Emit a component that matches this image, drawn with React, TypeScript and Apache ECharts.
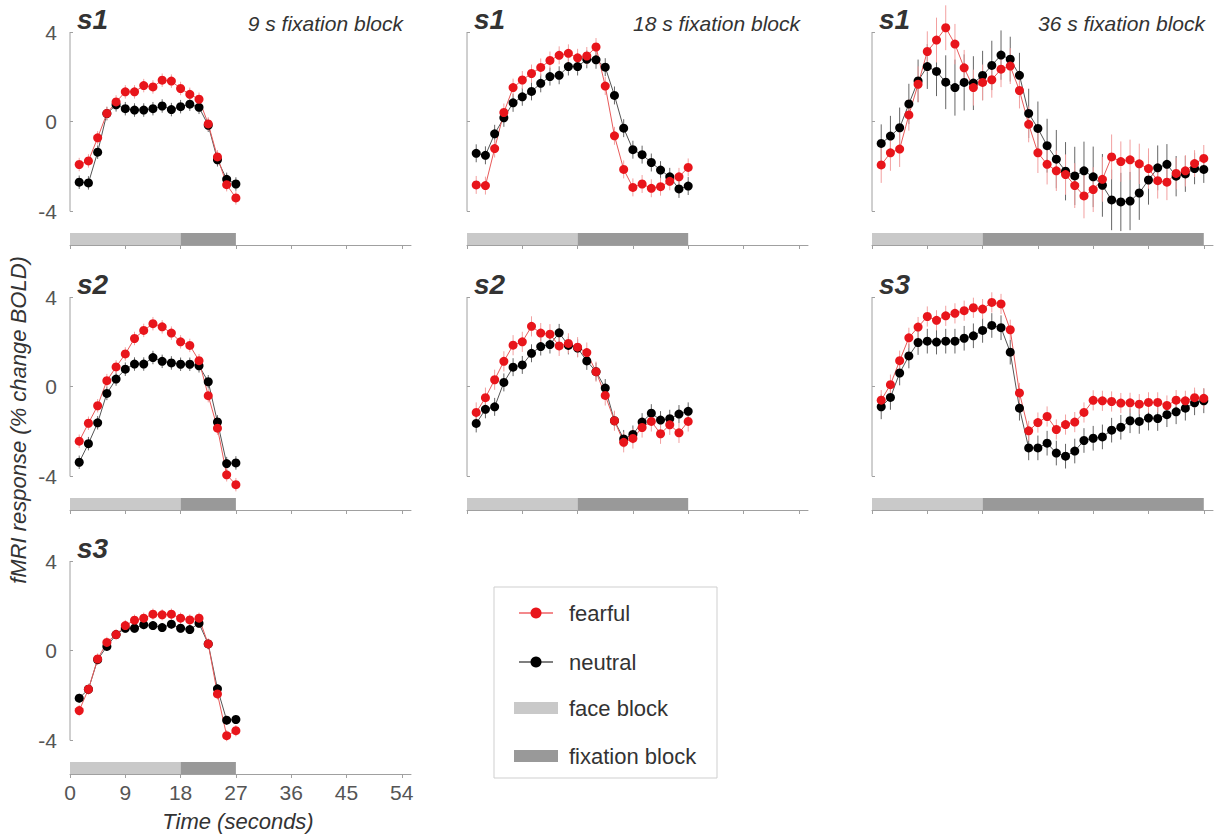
import React, { useEffect, useRef } from "react";
import * as echarts from "echarts";

// ---- sampling times (s) ----
const TIME_27 = [1.5, 3, 4.5, 6, 7.5, 9, 10.5, 12, 13.5, 15, 16.5, 18, 19.5, 21, 22.5, 24, 25.5, 27];
const TIME_36 = [1.5, 3, 4.5, 6, 7.5, 9, 10.5, 12, 13.5, 15, 16.5, 18, 19.5, 21, 22.5, 24, 25.5, 27, 28.5, 30, 31.5, 33, 34.5, 36];
const TIME_54 = [1.5, 3, 4.5, 6, 7.5, 9, 10.5, 12, 13.5, 15, 16.5, 18, 19.5, 21, 22.5, 24, 25.5, 27, 28.5, 30, 31.5, 33, 34.5, 36,
  37.5, 39, 40.5, 42, 43.5, 45, 46.5, 48, 49.5, 51, 52.5, 54];

// ---- responses (% change BOLD) ----
const S1_9_FEARFUL = [-1.91, -1.75, -0.72, 0.37, 0.88, 1.33, 1.33, 1.61, 1.55, 1.85, 1.81, 1.48, 1.22, 1.0, -0.1, -1.57, -2.81, -3.4];
const S1_9_NEUTRAL = [-2.7, -2.73, -1.36, 0.36, 0.75, 0.58, 0.52, 0.52, 0.58, 0.7, 0.54, 0.67, 0.78, 0.64, -0.16, -1.7, -2.57, -2.78];

const S1_18_FEARFUL = [-2.82, -2.85, -1.2, 0.41, 1.52, 1.86, 2.15, 2.42, 2.73, 2.96, 3.05, 2.85, 2.93, 3.33, 1.59, -0.63, -2.13, -2.93, -2.78, -2.97, -2.9, -2.66, -2.46, -2.04];
const S1_18_NEUTRAL = [-1.41, -1.5, -0.54, 0.17, 0.84, 1.11, 1.35, 1.71, 2.01, 2.07, 2.46, 2.46, 2.78, 2.76, 2.43, 1.17, -0.29, -1.25, -1.47, -1.82, -2.16, -2.46, -3.0, -2.87];

const S1_36_FEARFUL = [-1.93, -1.39, -1.22, 0.3, 1.67, 3.13, 3.64, 4.19, 3.46, 2.4, 1.52, 1.75, 1.87, 2.34, 2.48, 1.39, -0.12, -1.39, -1.9, -2.19,
  -2.36, -2.85, -3.31, -3.03, -2.57, -1.57, -1.78, -1.7, -1.88, -2.09, -2.63, -2.7, -2.31, -2.19, -1.87, -1.64];
const S1_36_NEUTRAL = [-0.97, -0.64, -0.27, 0.79, 1.82, 2.46, 2.24, 1.76, 1.52, 1.75, 1.72, 2.06, 2.51, 2.97, 2.79, 2.07, 0.37, -0.3, -1.07, -1.67,
  -2.21, -2.42, -2.19, -2.46, -2.84, -3.49, -3.58, -3.54, -3.18, -2.6, -2.06, -1.9, -2.43, -2.33, -2.09, -2.13];

const S2_9_FEARFUL = [-2.43, -1.63, -0.85, 0.27, 0.88, 1.46, 2.15, 2.51, 2.81, 2.67, 2.39, 2.0, 1.84, 1.16, -0.4, -1.85, -3.93, -4.37];
const S2_9_NEUTRAL = [-3.37, -2.54, -1.61, -0.3, 0.34, 0.78, 1.01, 1.01, 1.3, 1.13, 1.06, 1.0, 1.0, 0.93, 0.22, -1.57, -3.43, -3.4];

const S2_18_FEARFUL = [-1.15, -0.49, 0.31, 1.13, 1.85, 2.0, 2.69, 2.39, 2.34, 1.82, 1.93, 1.76, 1.52, 0.67, -0.39, -1.52, -2.48, -2.31, -1.82, -1.55, -2.1, -1.7, -2.06, -1.55];
const S2_18_NEUTRAL = [-1.64, -1.01, -0.9, 0.19, 0.87, 0.97, 1.49, 1.79, 1.88, 2.4, 1.84, 1.72, 1.15, 0.67, -0.06, -1.52, -2.33, -2.13, -1.58, -1.18, -1.49, -1.43, -1.22, -1.1];

const S3_36_FEARFUL = [-0.6, 0.09, 1.16, 2.18, 2.66, 3.13, 2.96, 3.16, 3.27, 3.39, 3.52, 3.46, 3.76, 3.69, 2.54, -0.28, -1.97, -1.6, -1.33, -1.91,
  -1.69, -1.58, -1.15, -0.61, -0.63, -0.66, -0.73, -0.72, -0.78, -0.7, -0.7, -0.84, -0.6, -0.63, -0.49, -0.52];
const S3_36_NEUTRAL = [-0.9, -0.48, 0.61, 1.37, 1.97, 2.03, 1.99, 2.03, 2.03, 2.16, 2.27, 2.51, 2.73, 2.63, 1.54, -0.96, -2.73, -2.73, -2.52, -2.96,
  -3.1, -2.87, -2.4, -2.3, -2.24, -1.94, -1.81, -1.52, -1.55, -1.4, -1.42, -1.25, -1.12, -0.96, -0.72, -0.63];

const S3_9_FEARFUL = [-2.67, -1.72, -0.37, 0.37, 0.72, 1.12, 1.36, 1.45, 1.63, 1.6, 1.63, 1.45, 1.37, 1.45, 0.3, -1.93, -3.79, -3.57];
const S3_9_NEUTRAL = [-2.12, -1.72, -0.4, 0.19, 0.72, 1.0, 1.0, 1.16, 1.12, 1.03, 1.18, 1.0, 0.94, 1.22, 0.3, -1.7, -3.1, -3.07];

// ---- standard errors (single value = same for every point) ----
const S1_36_FEARFUL_ERR = [0.8, 0.8, 0.8, 0.7, 0.8, 0.9, 1.0, 1.0, 0.9, 0.8, 0.8, 0.8, 0.8, 0.8, 0.8, 0.8, 0.8, 0.9, 0.9, 0.9,
  0.9, 1.0, 1.0, 1.0, 1.0, 1.0, 0.9, 0.9, 0.9, 0.9, 0.8, 0.8, 0.7, 0.7, 0.6, 0.6];
const S1_36_NEUTRAL_ERR = [0.85, 0.9, 0.9, 0.9, 0.95, 1.0, 1.1, 1.2, 1.25, 1.25, 1.2, 1.1, 1.1, 1.1, 1.0, 1.0, 1.1, 1.2, 1.2, 1.3,
  1.3, 1.3, 1.3, 1.35, 1.4, 1.35, 1.3, 1.3, 1.2, 1.1, 1.0, 0.9, 0.9, 0.8, 0.7, 0.6];

// ---- axes / blocks ----
const Y_TICKS = [-4, 0, 4];
const X_TICKS = [0, 9, 18, 27, 36, 45, 54];
const FACE_BLOCK_END = 18;

const PANELS = [
  { row: 0, col: 0, subject: "s1", label: "9 s fixation block", time: TIME_27, fearful: S1_9_FEARFUL, neutral: S1_9_NEUTRAL, fErr: 0.3, nErr: 0.3, fixEnd: 27 },
  { row: 0, col: 1, subject: "s1", label: "18 s fixation block", time: TIME_36, fearful: S1_18_FEARFUL, neutral: S1_18_NEUTRAL, fErr: 0.4, nErr: 0.4, fixEnd: 36 },
  { row: 0, col: 2, subject: "s1", label: "36 s fixation block", time: TIME_54, fearful: S1_36_FEARFUL, neutral: S1_36_NEUTRAL, fErr: S1_36_FEARFUL_ERR, nErr: S1_36_NEUTRAL_ERR, fixEnd: 54 },
  { row: 1, col: 0, subject: "s2", label: "", time: TIME_27, fearful: S2_9_FEARFUL, neutral: S2_9_NEUTRAL, fErr: 0.3, nErr: 0.3, fixEnd: 27 },
  { row: 1, col: 1, subject: "s2", label: "", time: TIME_36, fearful: S2_18_FEARFUL, neutral: S2_18_NEUTRAL, fErr: 0.45, nErr: 0.4, fixEnd: 36 },
  { row: 1, col: 2, subject: "s3", label: "", time: TIME_54, fearful: S3_36_FEARFUL, neutral: S3_36_NEUTRAL, fErr: 0.45, nErr: 0.55, fixEnd: 54 },
  { row: 2, col: 0, subject: "s3", label: "", time: TIME_27, fearful: S3_9_FEARFUL, neutral: S3_9_NEUTRAL, fErr: 0.25, nErr: 0.2, fixEnd: 27 },
];

// ---- layout & style ----
const FONT = '"Liberation Sans", Arial, Helvetica, sans-serif';
const COL_X = [70, 467, 872];
const ROW_Y = [32, 297, 561];
const GRID_W = 341;
const GRID_H = 213;
const Y_MIN = -5.5;
const Y_MAX = 4;
const X_MAX = 55.5;
const BAR_TOP = -4.97;
const RED = "#e8151b";
const RED_LINE = "#e85a5a";
const RED_ERR = "#f2a0a0";
const BLACK = "#000000";
const BLACK_LINE = "#555555";
const BLACK_ERR = "#666666";
const FACE_COLOR = "#c9c9c9";
const FIX_COLOR = "#999999";
const AXIS_COLOR = "#a0a0a0";

function buildOption() {
  const grid: any[] = [];
  const xAxis: any[] = [];
  const yAxis: any[] = [];
  const series: any[] = [];
  const graphic: any[] = [];

  PANELS.forEach((p, i) => {
    const left = COL_X[p.col];
    const top = ROW_Y[p.row];
    const isBottom = p.row === 2;
    grid.push({ left, top, width: GRID_W, height: GRID_H, containLabel: false });
    xAxis.push({
      gridIndex: i, type: "value", min: 0, max: X_MAX,
      axisLine: { show: true, onZero: false, lineStyle: { color: AXIS_COLOR, width: 1 } },
      axisTick: { show: true, length: 4, customValues: X_TICKS, lineStyle: { color: AXIS_COLOR } },
      axisLabel: { show: isBottom, customValues: X_TICKS, fontSize: 21, color: "#555", margin: 8, fontFamily: FONT },
      splitLine: { show: false },
    });
    yAxis.push({
      gridIndex: i, type: "value", min: Y_MIN, max: Y_MAX,
      axisLine: { show: false, onZero: false },
      axisTick: { show: true, inside: true, length: 3, customValues: Y_TICKS, lineStyle: { color: AXIS_COLOR } },
      axisLabel: { show: p.col === 0, customValues: Y_TICKS, fontSize: 21, color: "#555", margin: 13, fontFamily: FONT },
      splitLine: { show: false },
    });

    // blocks
    series.push({
      type: "custom", xAxisIndex: i, yAxisIndex: i, silent: true, clip: false,
      data: [[0, FACE_BLOCK_END, 0], [FACE_BLOCK_END, p.fixEnd, 1]],
      encode: { x: [0, 1] },
      renderItem: (params: any, api: any) => {
        const a = api.coord([api.value(0), BAR_TOP]);
        const b = api.coord([api.value(1), Y_MIN]);
        return {
          type: "rect",
          shape: { x: a[0], y: a[1], width: b[0] - a[0], height: b[1] - a[1] },
          style: { fill: api.value(2) === 0 ? FACE_COLOR : FIX_COLOR },
        };
      },
    });
    // y axis line from -4 to 4
    series.push({
      type: "line", xAxisIndex: i, yAxisIndex: i, silent: true, symbol: "none", clip: false,
      data: [[0, Y_TICKS[0]], [0, Y_TICKS[Y_TICKS.length - 1]]],
      lineStyle: { color: AXIS_COLOR, width: 1 },
    });

    const addCond = (vals: number[], err: any, color: string, lineColor: string, errColor: string) => {
      const errData = vals.map((v, k) => {
        const e = typeof err === "number" ? err : err[k];
        return [p.time[k], v - e, v + e];
      });
      series.push({
        type: "custom", xAxisIndex: i, yAxisIndex: i, silent: true, clip: false,
        data: errData, encode: { x: 0, y: [1, 2] },
        renderItem: (params: any, api: any) => {
          const a = api.coord([api.value(0), api.value(1)]);
          const b = api.coord([api.value(0), api.value(2)]);
          return {
            type: "line",
            shape: { x1: a[0], y1: a[1], x2: b[0], y2: b[1] },
            style: { stroke: errColor, lineWidth: 1 },
          };
        },
      });
      series.push({
        type: "line", xAxisIndex: i, yAxisIndex: i, silent: true, clip: false,
        data: vals.map((v, k) => [p.time[k], v]),
        symbol: "circle", symbolSize: 9, showSymbol: true,
        itemStyle: { color, borderWidth: 0 },
        lineStyle: { color: lineColor, width: 1 },
      });
    };
    addCond(p.neutral, p.nErr, BLACK, BLACK_LINE, BLACK_ERR);
    addCond(p.fearful, p.fErr, RED, RED_LINE, RED_ERR);

    // panel texts
    graphic.push({
      type: "text", left: left + 7, top: top - 27, silent: true,
      style: { text: p.subject, font: `italic bold 28px ${FONT}`, fill: "#333" },
    });
    if (p.label) {
      graphic.push({
        type: "text", x: left + 333, y: top - 9, silent: true,
        style: { text: p.label, font: `italic 21px ${FONT}`, fill: "#333", textAlign: "right", textVerticalAlign: "middle" },
      });
    }
  });

  // axis titles
  graphic.push({
    type: "text", x: 18, y: 420, rotation: Math.PI / 2, silent: true,
    style: { text: "fMRI response (% change BOLD)", font: `italic 22px ${FONT}`, fill: "#333", textAlign: "center", textVerticalAlign: "middle" },
  });
  graphic.push({
    type: "text", x: COL_X[0] + 168, y: 821, silent: true,
    style: { text: "Time (seconds)", font: `italic 22px ${FONT}`, fill: "#333", textAlign: "center", textVerticalAlign: "middle" },
  });

  // legend box
  const lx = 494, ly = 587;
  const items = [
    { kind: "line", color: RED, lineColor: RED, text: "fearful", y: 613 },
    { kind: "line", color: BLACK, lineColor: BLACK, text: "neutral", y: 662 },
    { kind: "rect", color: FACE_COLOR, text: "face block", y: 708 },
    { kind: "rect", color: FIX_COLOR, text: "fixation block", y: 756 },
  ];
  graphic.push({
    type: "rect", silent: true, shape: { x: lx, y: ly, width: 223, height: 191 },
    style: { fill: "#fff", stroke: "#cfcfcf", lineWidth: 1 },
  });
  items.forEach((it: any) => {
    if (it.kind === "line") {
      graphic.push({ type: "line", silent: true, shape: { x1: 519, y1: it.y, x2: 553, y2: it.y }, style: { stroke: it.lineColor, lineWidth: 1.2 } });
      graphic.push({ type: "circle", silent: true, shape: { cx: 536, cy: it.y, r: 5.5 }, style: { fill: it.color } });
    } else {
      graphic.push({ type: "rect", silent: true, shape: { x: 514, y: it.y - 6, width: 44, height: 12 }, style: { fill: it.color } });
    }
    graphic.push({
      type: "text", x: 569, y: it.y, silent: true,
      style: { text: it.text, font: `22px ${FONT}`, fill: "#333", textVerticalAlign: "middle" },
    });
  });

  return {
    animation: false,
    backgroundColor: "#fff",
    textStyle: { fontFamily: FONT },
    grid, xAxis, yAxis, series, graphic,
  };
}

export default function App() {
  const ref = useRef<HTMLDivElement>(null);
  useEffect(() => {
    if (!ref.current) return;
    const chart = echarts.init(ref.current, null, { renderer: "svg" });
    chart.setOption(buildOption() as any);
    return () => chart.dispose();
  }, []);
  return (
    <div
      ref={ref}
      style={{ position: "fixed", left: 0, top: 0, width: 1215, height: 835, background: "#fff" }}
    />
  );
}
